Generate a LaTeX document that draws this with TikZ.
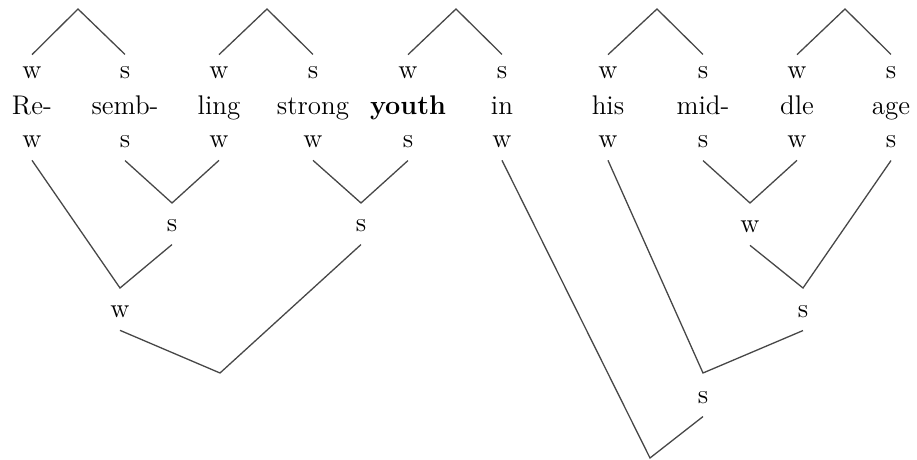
\documentclass[tikz,border=0pt]{standalone}
\usetikzlibrary{calc}
\colorlet{linegray}{black!72}

\begin{document}
\begin{tikzpicture}[
        x=0.5pt, y=-0.5pt,
        font=\fontsize{13.5}{16}\selectfont,
        stress/.style={
            inner sep=6pt,
        },
        word/.style={
            anchor=base,
            inner sep=0pt,
        },
        link/.style={
            draw=linegray,
            line width=0.65pt,
        },
    ]
    \useasboundingbox (0,0) rectangle (917,460);

    % top row of stresses
    \node[stress] (t1) at (32, 73) {w};
    \node[stress] (t2) at (125, 73) {s};
    \node[stress] (t3) at (219, 73) {w};
    \node[stress] (t4) at (313, 73) {s};
    \node[stress] (t5) at (408, 73) {w};
    \node[stress] (t6) at (502, 73) {s};
    \node[stress] (t7) at (608, 73) {w};
    \node[stress] (t8) at (703, 73) {s};
    \node[stress] (t9) at (797, 73) {w};
    \node[stress] (t10) at (891, 73) {s};

    % the line of verse
    \node[word] (w1) at (32, 115) {Re-};
    \node[word] (w2) at (125, 115) {semb-};
    \node[word] (w3) at (219, 115) {ling};
    \node[word] (w4) at (313, 115) {strong};
    \node[word] (w5) at (408, 115) {\bfseries youth};
    \node[word] (w6) at (502, 115) {in};
    \node[word] (w7) at (608, 115) {his};
    \node[word] (w8) at (703, 115) {mid-};
    \node[word] (w9) at (797, 115) {dle};
    \node[word] (w10) at (891, 115) {age};

    % bottom row of stresses
    \node[stress] (b1) at (32, 142) {w};
    \node[stress] (b2) at (125, 142) {s};
    \node[stress] (b3) at (219, 142) {w};
    \node[stress] (b4) at (313, 142) {w};
    \node[stress] (b5) at (408, 142) {s};
    \node[stress] (b6) at (502, 142) {w};
    \node[stress] (b7) at (608, 142) {w};
    \node[stress] (b8) at (703, 142) {s};
    \node[stress] (b9) at (797, 142) {w};
    \node[stress] (b10) at (891, 142) {s};

    % inner stresses of the lower tree
    \node[stress] (n1) at (172, 226) {s};
    \node[stress] (n2) at (361, 226) {s};
    \node[stress] (n3) at (120, 312) {w};
    \node[stress] (n4) at (750, 227) {w};
    \node[stress] (n5) at (803, 312) {s};
    \node[stress] (n6) at (703, 398) {s};

    % joints
    \coordinate (a1) at (78, 9);
    \coordinate (a2) at (267, 9);
    \coordinate (a3) at (456, 9);
    \coordinate (a4) at (657, 9);
    \coordinate (a5) at (845, 9);
    \coordinate (j1) at (172, 203);
    \coordinate (j2) at (361, 203);
    \coordinate (j3) at (120, 288);
    \coordinate (j4) at (220, 373);
    \coordinate (j5) at (750, 203);
    \coordinate (j6) at (803, 288);
    \coordinate (j7) at (703, 373);
    \coordinate (j8) at (650, 458);

    \begin{scope}[link]
        \draw (t1.north) -- (a1) -- (t2.north);
        \draw (t3.north) -- (a2) -- (t4.north);
        \draw (t5.north) -- (a3) -- (t6.north);
        \draw (t7.north) -- (a4) -- (t8.north);
        \draw (t9.north) -- (a5) -- (t10.north);

        \draw (b2.south) -- (j1) -- (b3.south);
        \draw (b4.south) -- (j2) -- (b5.south);
        \draw (b1.south) -- (j3) -- (n1.south);
        \draw (n3.south) -- (j4) -- (n2.south);

        \draw (b8.south) -- (j5) -- (b9.south);
        \draw (n4.south) -- (j6) -- (b10.south);
        \draw (b7.south) -- (j7) -- (n5.south);
        \draw (b6.south) -- (j8) -- (n6.south);
    \end{scope}
\end{tikzpicture}
\end{document}
